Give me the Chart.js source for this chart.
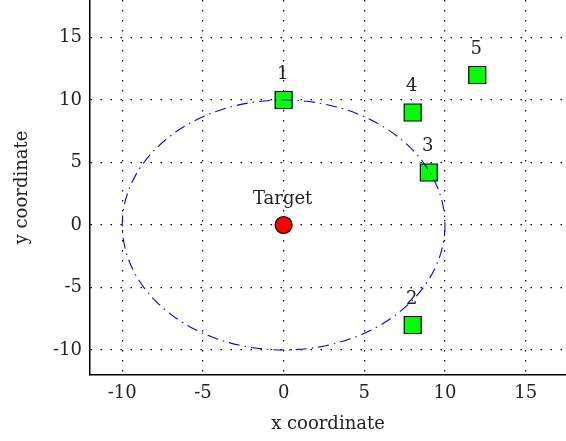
<!DOCTYPE html>
<html>
<head>
<meta charset="utf-8">
<script src="https://cdn.jsdelivr.net/npm/chart.js@4"></script>
<style>
  html, body { margin: 0; padding: 0; background: #fff; }
  #wrap { width: 566px; height: 441px; }
</style>
</head>
<body>
<div id="wrap"><canvas id="chart"></canvas></div>
<script>
// data
const pointNames = ['1', '2', '3', '4', '5'];
const pointX = [0, 8, 9, 8, 12];
const pointY = [10, -8, 4.2, 9, 12];
const targetName = 'Target';
const targetX = [0];
const targetY = [0];
const circleCenter = [0, 0];
const circleRadius = 10;
const tickValues = [-10, -5, 0, 5, 10, 15];

const FONT = "'DejaVu Serif', 'Liberation Serif', serif";
const FSIZE = 18;

// labels above each marker
const labelPlugin = {
  id: 'labels',
  afterDatasetsDraw(chart) {
    const ctx = chart.ctx;
    ctx.save();
    ctx.font = FSIZE + 'px ' + FONT;
    ctx.fillStyle = '#222';
    ctx.textAlign = 'center';
    ctx.textBaseline = 'middle';
    chart.data.datasets.forEach((ds, i) => {
      chart.getDatasetMeta(i).data.forEach((el, j) => {
        ctx.fillText(ds.names[j], el.x - 1, el.y - 26);
      });
    });
    ctx.restore();
  }
};

// dash-dot circle around the target, drawn through the scales
const circlePlugin = {
  id: 'circle',
  afterDatasetsDraw(chart) {
    const xs = chart.scales.x, ys = chart.scales.y;
    const cx = xs.getPixelForValue(circleCenter[0]);
    const cy = ys.getPixelForValue(circleCenter[1]);
    const rx = Math.abs(xs.getPixelForValue(circleCenter[0] + circleRadius) - cx);
    const ry = Math.abs(ys.getPixelForValue(circleCenter[1] + circleRadius) - cy);
    const ctx = chart.ctx;
    ctx.save();
    ctx.strokeStyle = '#0000ff';
    ctx.lineWidth = 1.1;
    ctx.setLineDash([11, 5, 1.5, 5]);
    ctx.beginPath();
    ctx.ellipse(cx, cy, rx, ry, 0, 0, Math.PI * 2);
    ctx.stroke();
    ctx.restore();
  }
};

function axis(min, max, title, isX) {
  return {
    type: 'linear',
    min: min,
    max: max,
    afterFit(s) {
      if (isX) { s.height = 66; s.paddingLeft = 0; s.paddingRight = 0; }
      else { s.width = 90; s.paddingTop = 0; s.paddingBottom = 0; }
    },
    afterBuildTicks(s) { s.ticks = tickValues.map(v => ({ value: v })); },
    ticks: {
      font: { family: FONT, size: FSIZE },
      color: '#222',
      padding: 8,
      includeBounds: false
    },
    grid: { color: '#000', lineWidth: 1.2, drawTicks: false },
    border: { display: true, color: '#000', width: 1.5, dash: [1.5, 8.5] },
    title: {
      display: true,
      text: title,
      font: { family: FONT, size: FSIZE },
      color: '#222',
      padding: isX ? { top: 6, bottom: 6 } : { top: 12, bottom: 12 }
    }
  };
}

new Chart(document.getElementById('chart'), {
  type: 'scatter',
  data: {
    datasets: [
      {
        names: pointNames,
        data: pointX.map((x, i) => ({ x: x, y: pointY[i] })),
        pointStyle: 'rect',
        pointRadius: 12,
        backgroundColor: '#00ff00',
        borderColor: '#000',
        borderWidth: 1.2
      },
      {
        names: [targetName],
        data: targetX.map((x, i) => ({ x: x, y: targetY[i] })),
        pointStyle: 'circle',
        pointRadius: 8.5,
        backgroundColor: '#ff0000',
        borderColor: '#000',
        borderWidth: 1.2
      }
    ]
  },
  options: {
    responsive: true,
    maintainAspectRatio: false,
    animation: false,
    layout: { padding: 0, autoPadding: false },
    plugins: { legend: { display: false }, tooltip: { enabled: false } },
    scales: {
      x: axis(-12, 17.5, 'x coordinate', true),
      y: axis(-12, 18, 'y coordinate', false)
    }
  },
  plugins: [labelPlugin, circlePlugin]
});
</script>
</body>
</html>
